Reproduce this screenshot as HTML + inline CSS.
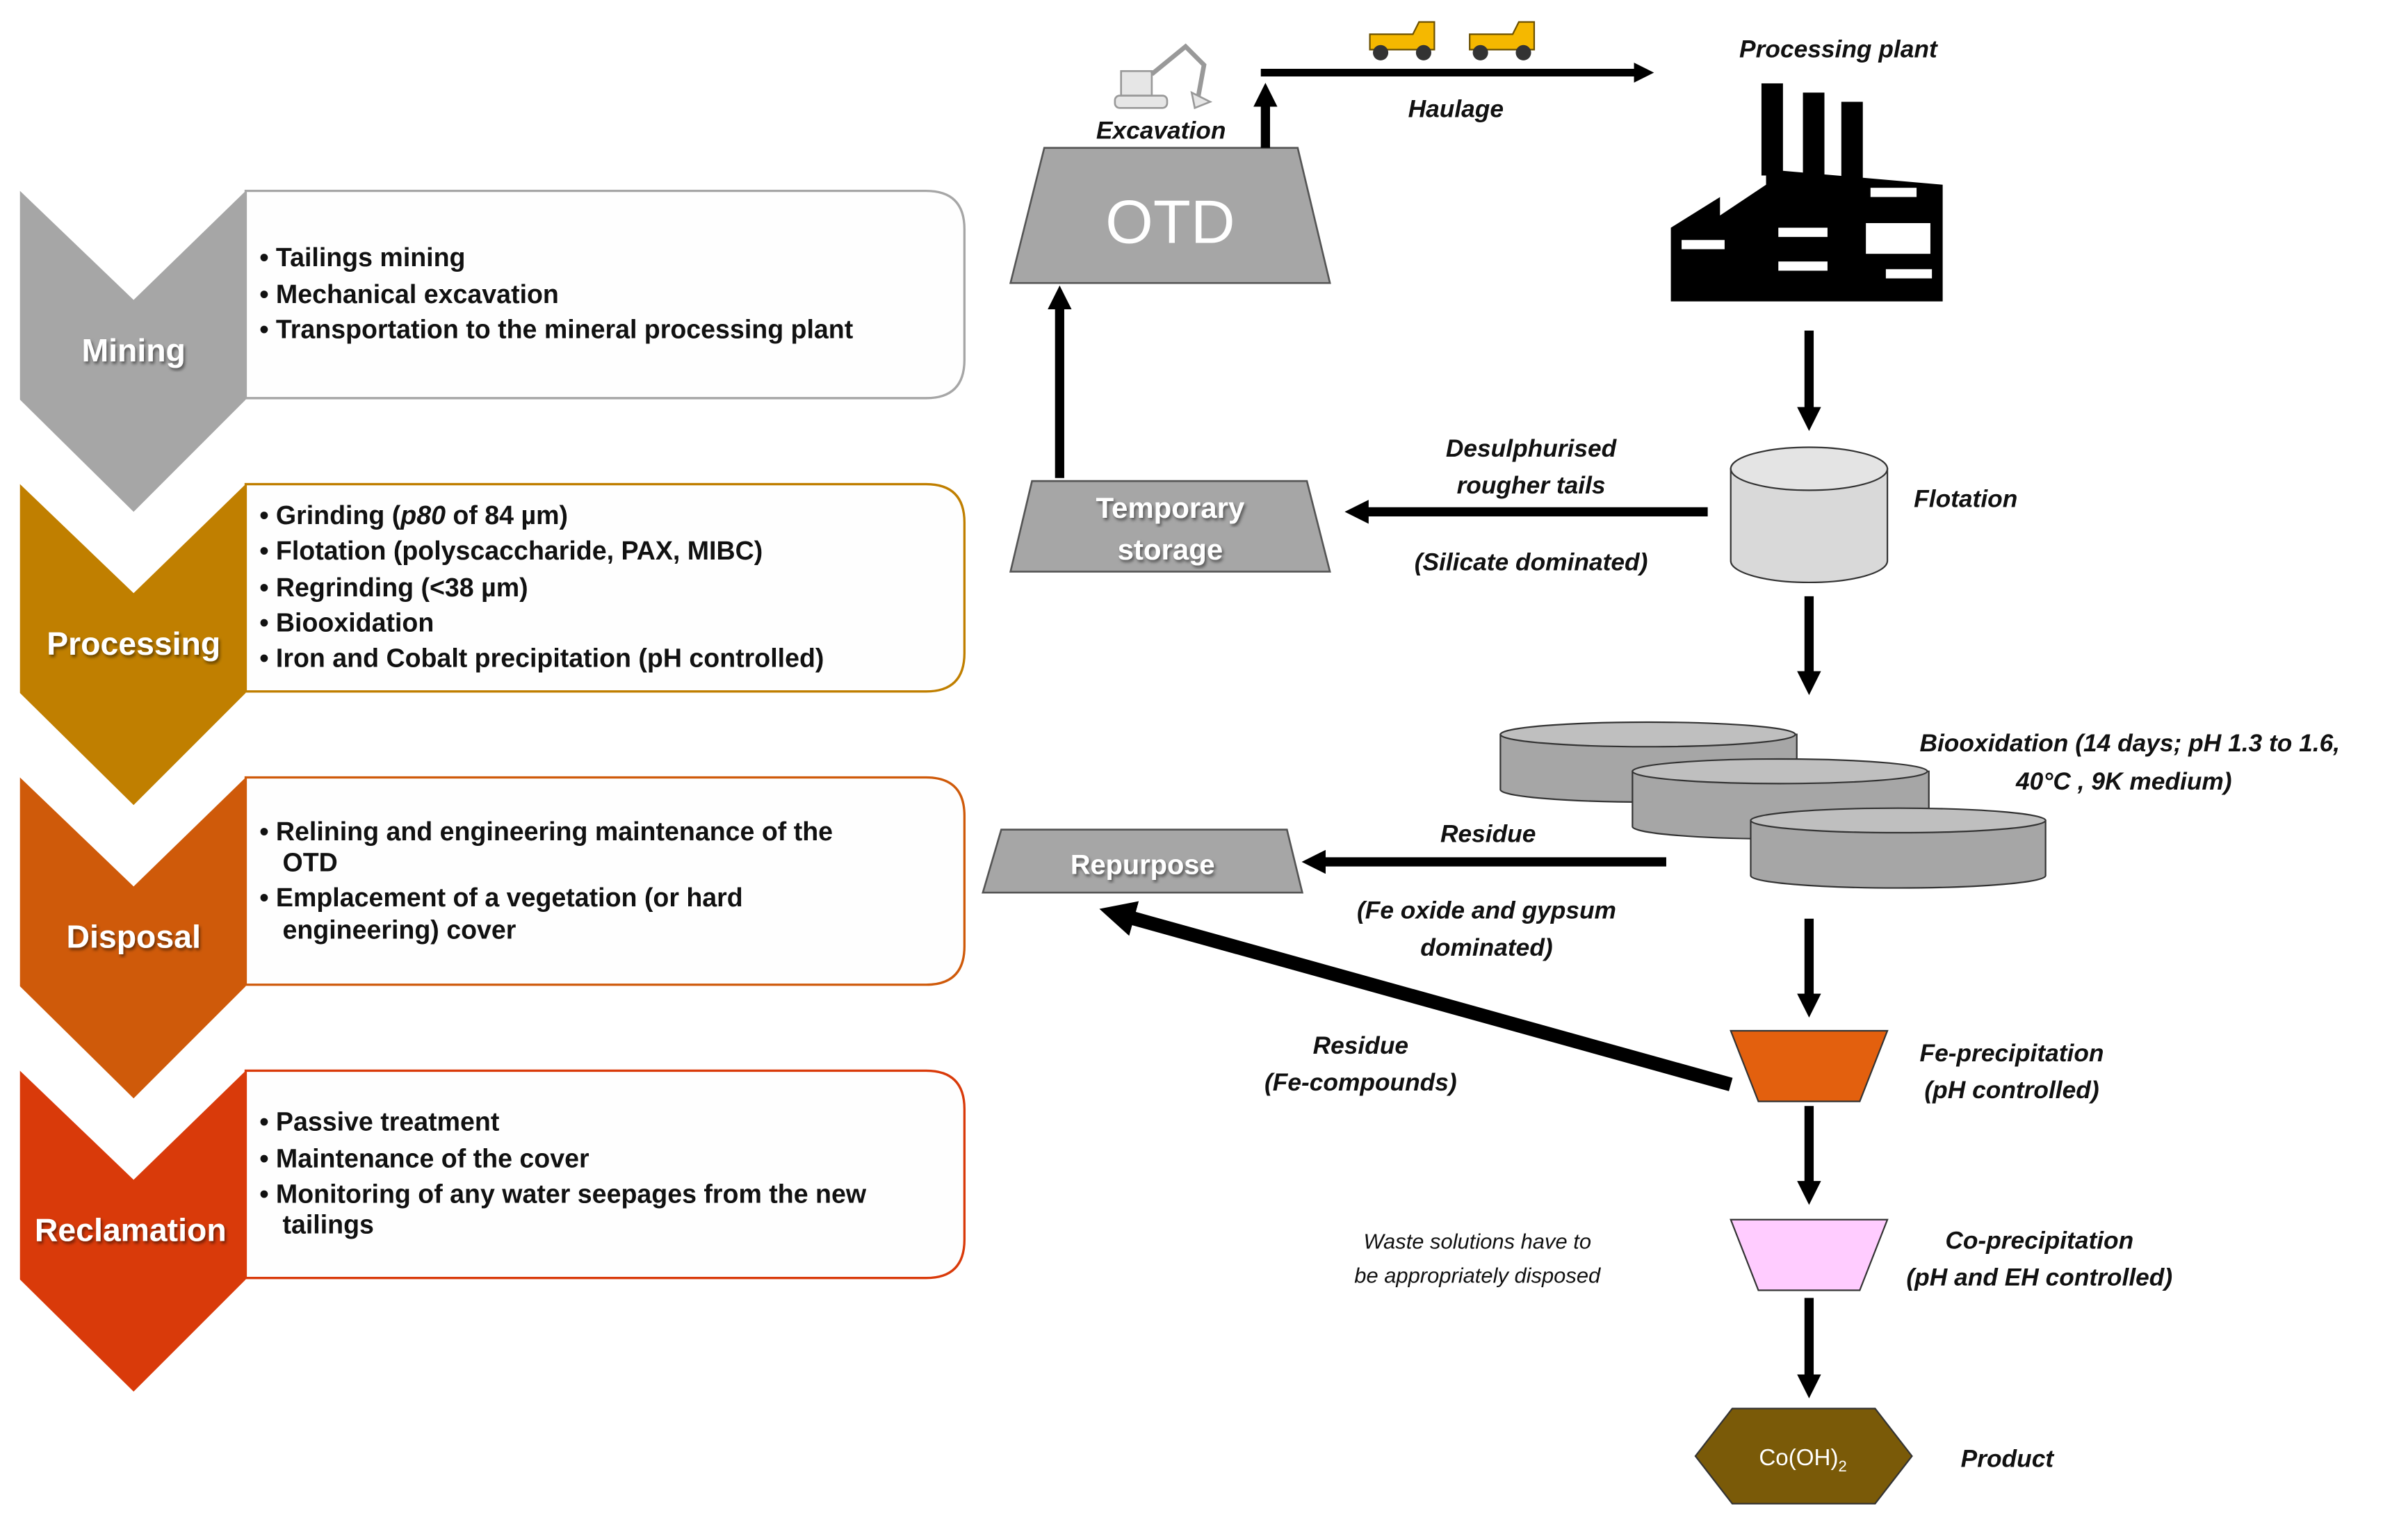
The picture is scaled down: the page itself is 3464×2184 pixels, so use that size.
<!DOCTYPE html>
<html><head><meta charset="utf-8"><style>
html,body{margin:0;padding:0;background:#fff;}
svg{display:block;}
text{font-family:"Liberation Sans",Arial,sans-serif;}
.b{font-weight:bold;font-size:17px;fill:#111;}
.lab{font-weight:bold;font-size:21px;fill:#fff;text-anchor:middle;}
.it{font-weight:bold;font-style:italic;font-size:16px;fill:#111;text-anchor:middle;}
</style></head><body>
<svg width="3464" height="2184" viewBox="0 0 1568 988" xmlns="http://www.w3.org/2000/svg">
<defs>
<marker id="ah" markerWidth="2.6" markerHeight="2.6" refX="1.2" refY="1.3" orient="auto" markerUnits="strokeWidth"><path d="M0,0 L2.6,1.3 L0,2.6 z" fill="#000"/></marker>
<filter id="sh"><feDropShadow dx="1" dy="1.5" stdDeviation="1" flood-color="#000" flood-opacity="0.5"/></filter>
</defs>
<rect width="1568" height="988" fill="#fff"/>

<g>
<path d="M160,124 H603 Q628,124 628,149 V234 Q628,259 603,259 H160 Z" fill="#fefefe" stroke="#a6a6a6" stroke-width="1.5"/>
<polygon points="13,124 87,195 160,124 160,260 87,333 13,260" fill="#a6a6a6"/>
<text class="lab" x="87" y="235" filter="url(#sh)">Mining</text>
<text class="b" x="169" y="173">• Tailings mining</text>
<text class="b" x="169" y="197">• Mechanical excavation</text>
<text class="b" x="169" y="220">• Transportation to the mineral processing plant</text>

<path d="M160,315 H603 Q628,315 628,340 V425 Q628,450 603,450 H160 Z" fill="#fefefe" stroke="#c07f00" stroke-width="1.5"/>
<polygon points="13,315 87,386 160,315 160,451 87,524 13,451" fill="#c07f00"/>
<text class="lab" x="87" y="426" filter="url(#sh)">Processing</text>
<text class="b" x="169" y="341">• Grinding (<tspan font-style="italic">p80</tspan> of 84 µm)</text>
<text class="b" x="169" y="364">• Flotation (polyscaccharide, PAX, MIBC)</text>
<text class="b" x="169" y="388">• Regrinding (&lt;38 µm)</text>
<text class="b" x="169" y="411">• Biooxidation</text>
<text class="b" x="169" y="434">• Iron and Cobalt precipitation (pH controlled)</text>

<path d="M160,506 H603 Q628,506 628,531 V616 Q628,641 603,641 H160 Z" fill="#fefefe" stroke="#cf5a0a" stroke-width="1.5"/>
<polygon points="13,506 87,577 160,506 160,642 87,715 13,642" fill="#cf5a0a"/>
<text class="lab" x="87" y="617" filter="url(#sh)">Disposal</text>
<text class="b" x="169" y="547">• Relining and engineering maintenance of the</text>
<text class="b" x="184" y="567">OTD</text>
<text class="b" x="169" y="590">• Emplacement of a vegetation (or hard</text>
<text class="b" x="184" y="611">engineering) cover</text>

<path d="M160,697 H603 Q628,697 628,722 V807 Q628,832 603,832 H160 Z" fill="#fefefe" stroke="#d93a0a" stroke-width="1.5"/>
<polygon points="13,697 87,768 160,697 160,833 87,906 13,833" fill="#d93a0a"/>
<text class="lab" x="85" y="808" filter="url(#sh)">Reclamation</text>
<text class="b" x="169" y="736">• Passive treatment</text>
<text class="b" x="169" y="760">• Maintenance of the cover</text>
<text class="b" x="169" y="783">• Monitoring of any water seepages from the new</text>
<text class="b" x="184" y="803">tailings</text>
</g>

<polygon points="680,96 845,96 866,184 658,184" fill="#a6a6a6" stroke="#555" stroke-width="1.2"/>
<text x="762" y="158" font-size="40" fill="#fff" text-anchor="middle">OTD</text>
<text class="it" x="756" y="90">Excavation</text>
<g stroke="#999" stroke-width="1.2" fill="#e6e6e6">
<rect x="730" y="46" width="20" height="16"/>
<rect x="726" y="62" width="34" height="8" rx="3"/>
<path d="M750,48 L772,30 L784,42 L780,64" fill="none" stroke-width="3"/>
<path d="M776,60 L788,66 L778,70 Z"/>
</g>
<line x1="824" y1="96" x2="824" y2="62" stroke="#000" stroke-width="6" marker-end="url(#ah)"/>
<line x1="821" y1="47" x2="1070" y2="47" stroke="#000" stroke-width="5" marker-end="url(#ah)"/>
<text class="it" x="948" y="76">Haulage</text>
<g>
<path d="M892,22 L920,22 L924,14 L934,14 L934,32 L892,32 Z" fill="#f5b800" stroke="#6b5000" stroke-width="1"/>
<circle cx="899" cy="34" r="5" fill="#333"/><circle cx="927" cy="34" r="5" fill="#333"/>
<path d="M957,22 L985,22 L989,14 L999,14 L999,32 L957,32 Z" fill="#f5b800" stroke="#6b5000" stroke-width="1"/>
<circle cx="964" cy="34" r="5" fill="#333"/><circle cx="992" cy="34" r="5" fill="#333"/>
</g>
<text class="it" x="1197" y="37">Processing plant</text>
<g fill="#000">
<rect x="1147" y="54" width="14" height="60"/>
<rect x="1174" y="60" width="14" height="55"/>
<rect x="1199" y="66" width="14" height="50"/>
<polygon points="1088,148 1120,128 1120,140 1150,120 1150,110 1265,120 1265,196 1088,196"/>
</g>
<g fill="#fff">
<rect x="1095" y="156" width="28" height="6"/>
<rect x="1158" y="148" width="32" height="6"/>
<rect x="1158" y="170" width="32" height="6"/>
<rect x="1218" y="122" width="30" height="6"/>
<rect x="1215" y="145" width="42" height="20"/>
<rect x="1228" y="175" width="30" height="6"/>
</g>
<line x1="1178" y1="215" x2="1178" y2="272" stroke="#000" stroke-width="6" marker-end="url(#ah)"/>
<path d="M1127,305 V365 A51,14 0 0 0 1229,365 V305 Z" fill="#d9d9d9" stroke="#333" stroke-width="1"/>
<ellipse cx="1178" cy="305" rx="51" ry="14" fill="#e4e4e4" stroke="#333" stroke-width="1"/>
<text class="it" x="1280" y="330">Flotation</text>
<line x1="1112" y1="333" x2="884" y2="333" stroke="#000" stroke-width="6" marker-end="url(#ah)"/>
<text class="it" x="997" y="297">Desulphurised</text>
<text class="it" x="997" y="321">rougher tails</text>
<text class="it" x="997" y="371">(Silicate dominated)</text>
<polygon points="672,313 851,313 866,372 658,372" fill="#a6a6a6" stroke="#555" stroke-width="1.2"/>
<text x="762" y="337" font-size="19" font-weight="bold" fill="#fff" text-anchor="middle" filter="url(#sh)">Temporary</text>
<text x="762" y="364" font-size="19" font-weight="bold" fill="#fff" text-anchor="middle" filter="url(#sh)">storage</text>
<line x1="690" y1="311" x2="690" y2="194" stroke="#000" stroke-width="6" marker-end="url(#ah)"/>
<line x1="1178" y1="388" x2="1178" y2="444" stroke="#000" stroke-width="6" marker-end="url(#ah)"/>
<g stroke="#333" stroke-width="1">
<path d="M977,478 V514 A96,8 0 0 0 1170,514 V478 Z" fill="#a6a6a6"/>
<ellipse cx="1073" cy="478" rx="96" ry="8" fill="#bfbfbf"/>
<path d="M1063,502 V538 A96,8 0 0 0 1256,538 V502 Z" fill="#a6a6a6"/>
<ellipse cx="1159" cy="502" rx="96" ry="8" fill="#bfbfbf"/>
<path d="M1140,534 V570 A96,8 0 0 0 1332,570 V534 Z" fill="#a6a6a6"/>
<ellipse cx="1236" cy="534" rx="96" ry="8" fill="#bfbfbf"/>
</g>
<text class="it" x="1250" y="489" style="text-anchor:start">Biooxidation  (14 days; pH 1.3 to 1.6,</text>
<text class="it" x="1383" y="514">40°C , 9K medium)</text>
<line x1="1085" y1="561" x2="856" y2="561" stroke="#000" stroke-width="6" marker-end="url(#ah)"/>
<text class="it" x="969" y="548">Residue</text>
<text class="it" x="968" y="598">(Fe oxide and gypsum</text>
<text class="it" x="968" y="622">dominated)</text>
<polygon points="652,540 838,540 848,581 640,581" fill="#a6a6a6" stroke="#555" stroke-width="1.2"/>
<text x="744" y="569" font-size="18" font-weight="bold" fill="#fff" text-anchor="middle" filter="url(#sh)">Repurpose</text>
<line x1="1178" y1="598" x2="1178" y2="654" stroke="#000" stroke-width="6" marker-end="url(#ah)"/>
<polygon points="1127,671 1229,671 1211,717 1145,717" fill="#e3600e" stroke="#333" stroke-width="1"/>
<text class="it" x="1310" y="691">Fe-precipitation</text>
<text class="it" x="1310" y="715">(pH controlled)</text>
<line x1="1127" y1="706" x2="728" y2="595" stroke="#000" stroke-width="9" marker-end="url(#ah)"/>
<text class="it" x="886" y="686">Residue</text>
<text class="it" x="886" y="710">(Fe-compounds)</text>
<line x1="1178" y1="720" x2="1178" y2="776" stroke="#000" stroke-width="6" marker-end="url(#ah)"/>
<polygon points="1127,794 1229,794 1211,840 1145,840" fill="#ffccff" stroke="#333" stroke-width="1"/>
<text class="it" x="1328" y="813">Co-precipitation</text>
<text class="it" x="1328" y="837">(pH and EH controlled)</text>
<text x="962" y="813" font-size="14" font-style="italic" fill="#111" text-anchor="middle">Waste solutions have to</text>
<text x="962" y="835" font-size="14" font-style="italic" fill="#111" text-anchor="middle">be appropriately disposed</text>
<line x1="1178" y1="845" x2="1178" y2="902" stroke="#000" stroke-width="6" marker-end="url(#ah)"/>
<polygon points="1104,948 1128,917 1221,917 1245,948 1221,979 1128,979" fill="#7a5a08" stroke="#333" stroke-width="1"/>
<text x="1174" y="954" font-size="15" fill="#fff" text-anchor="middle">Co(OH)<tspan font-size="10" dy="4">2</tspan></text>
<text class="it" x="1307" y="955">Product</text>
</svg>
</body></html>
